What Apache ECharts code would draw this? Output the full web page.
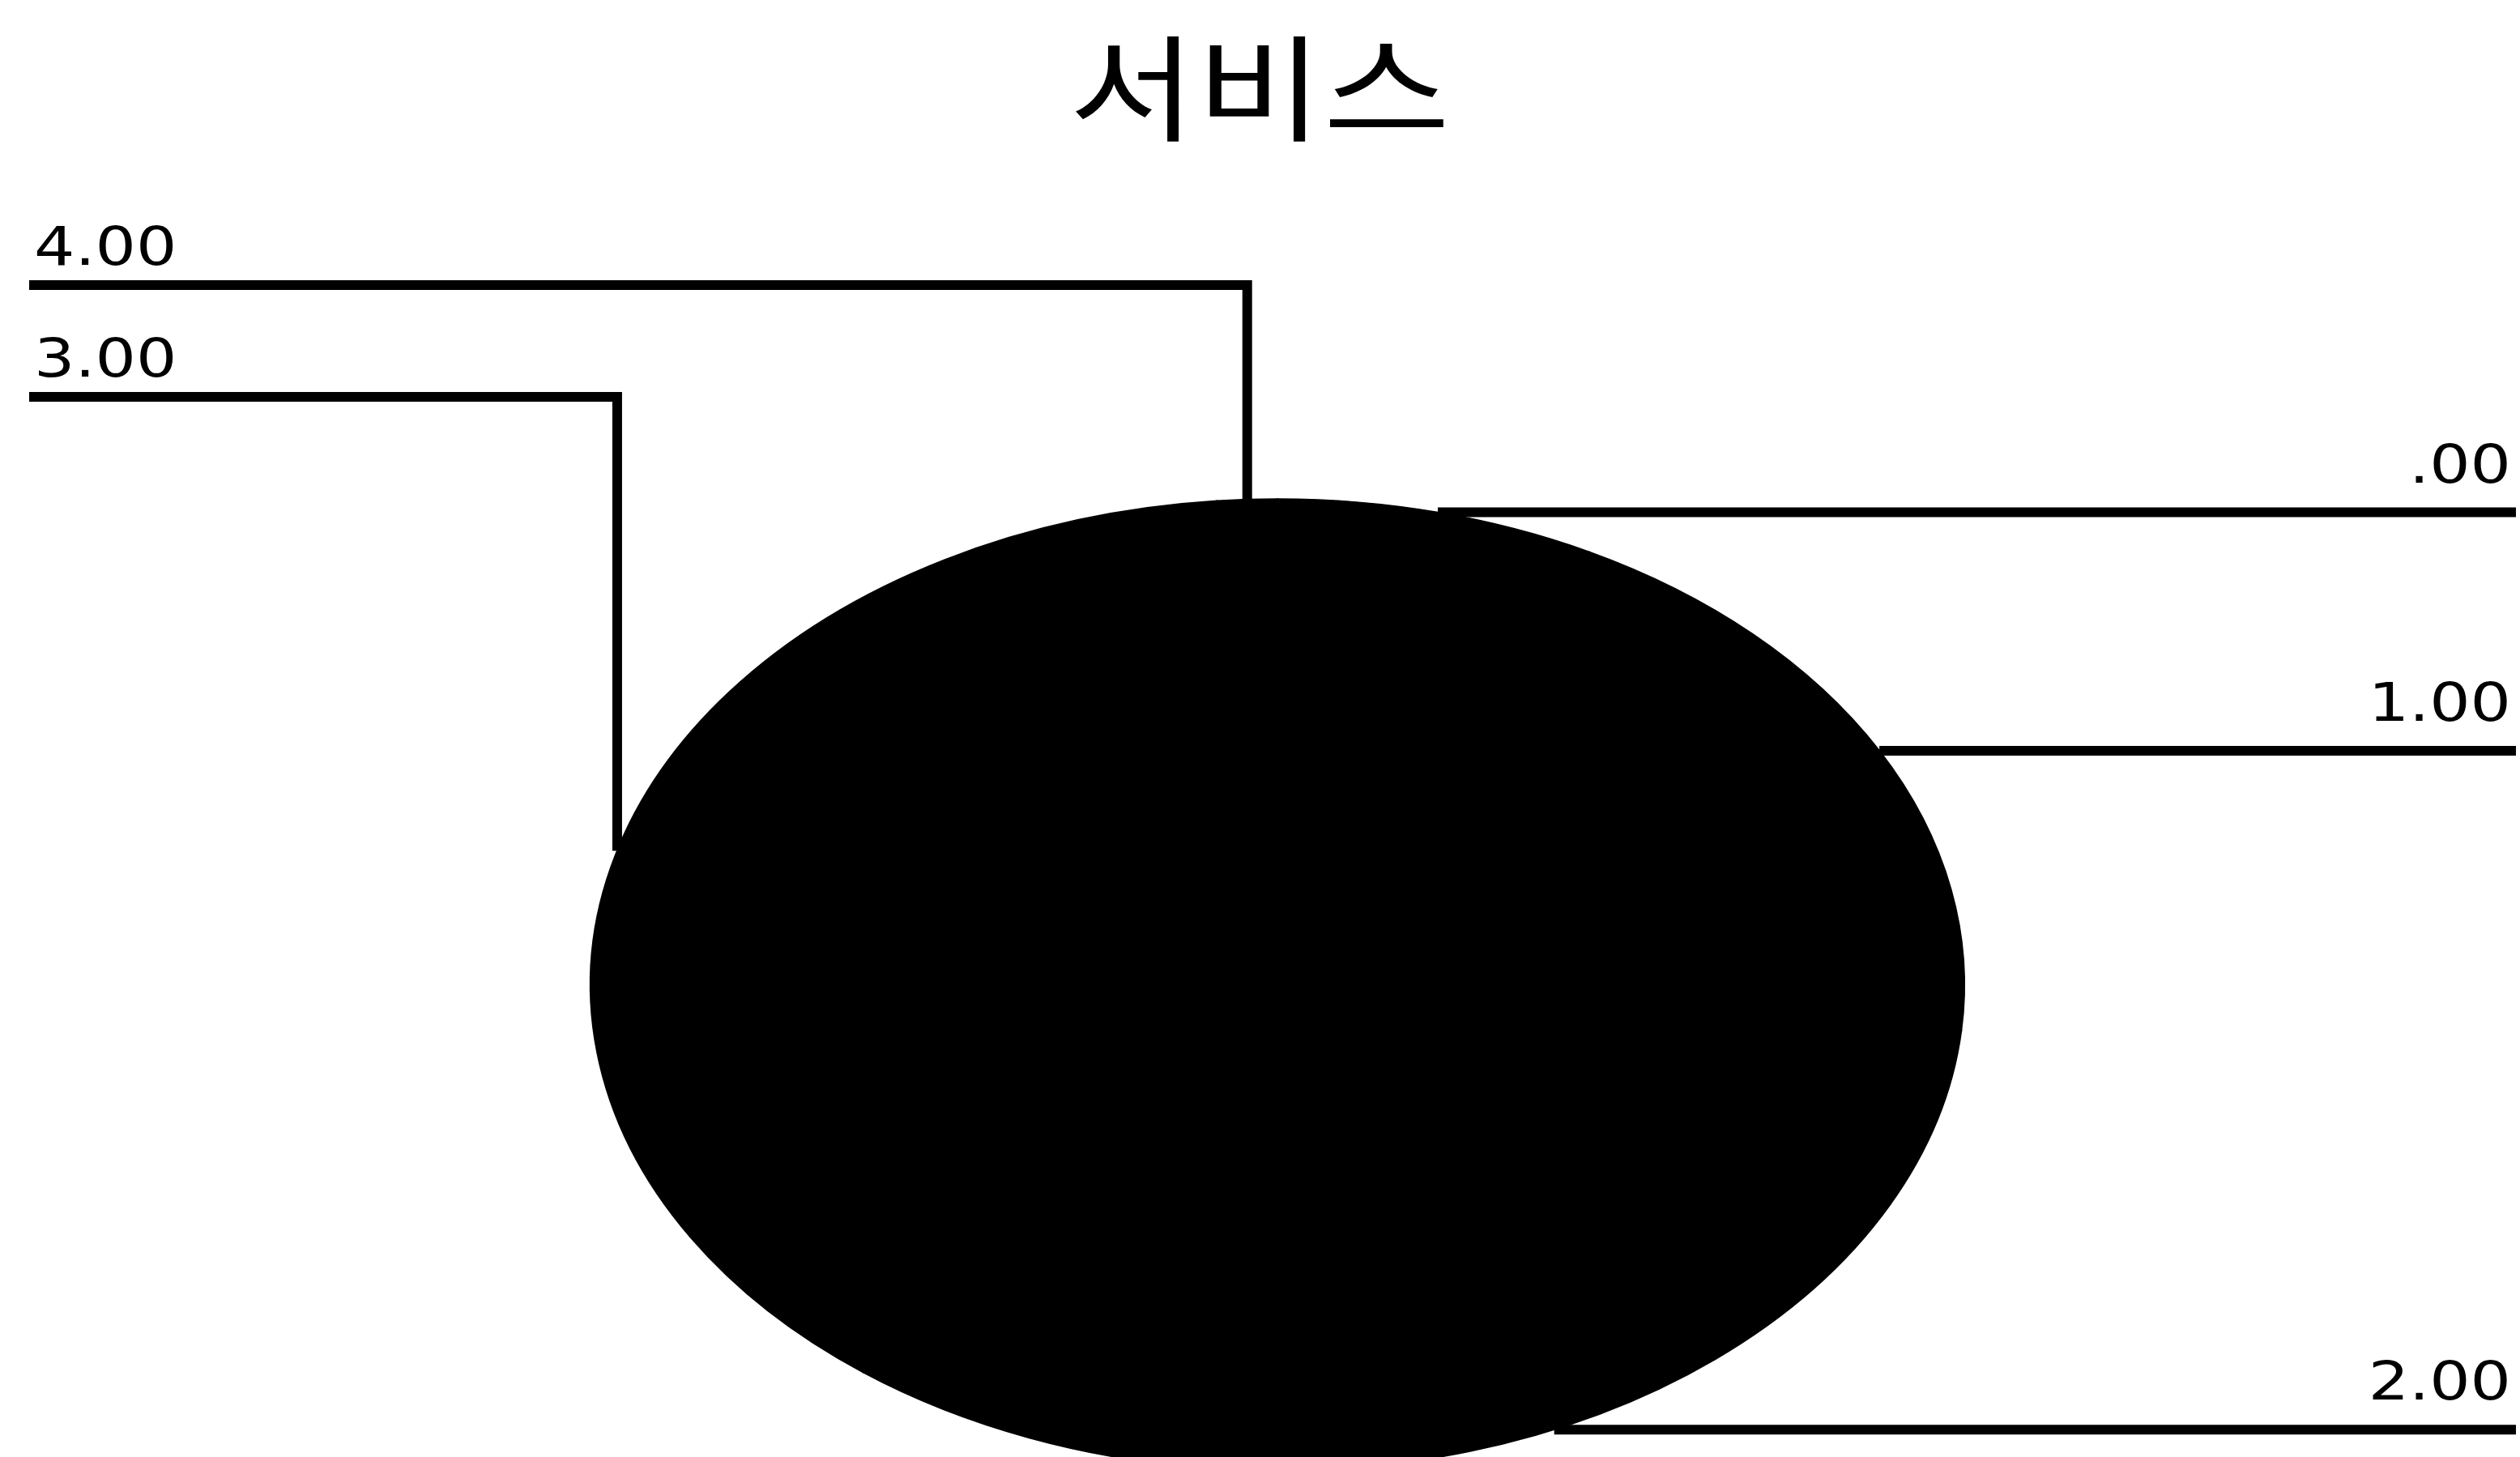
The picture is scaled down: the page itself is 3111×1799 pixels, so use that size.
<!DOCTYPE html>
<html><head><meta charset="utf-8">
<script src="https://cdn.jsdelivr.net/npm/echarts@6/dist/echarts.min.js"></script>
<style>html,body{margin:0;padding:0;background:#fff}#c{width:3111px;height:1799px}</style>
</head><body><div id="c"></div>
<script>
const titleText = '서비스';
const categories = ['.00', '1.00', '2.00', '3.00', '4.00'];
const values = [7.5, 19.0, 33.8, 38.3, 1.4];

// layout constants
const CX = 1577, CY = 1216, RX = 848, RY = 600;
const LINE_W = 12;
const RIGHT_END = 3106, LEFT_START = 36;
const LEFT_ROW0 = 352, LEFT_ROW_STEP = 138;
const LABEL_FONT = '66px "DejaVu Sans"';
const LABEL_SCALE_X = 1.2;

function geometry() {
  const total = values.reduce((a, b) => a + b, 0);
  let acc = 0;
  const out = [];
  values.forEach((v) => {
    const a0 = acc / total * 2 * Math.PI;
    acc += v;
    const a1 = acc / total * 2 * Math.PI;
    const m = (a0 + a1) / 2;
    out.push({ a0, a1, m, px: CX + RX * Math.sin(m), py: CY - RY * Math.cos(m), left: Math.sin(m) < 0 });
  });
  const lefts = out.map((g, i) => i).filter(i => out[i].left).sort((a, b) => out[a].py - out[b].py);
  lefts.forEach((i, k) => { out[i].rowY = LEFT_ROW0 + k * LEFT_ROW_STEP; });
  return out;
}
const geo = geometry();

const chart = echarts.init(document.getElementById('c'), null, { renderer: 'canvas' });
chart.setOption({
  animation: false,
  backgroundColor: '#ffffff',
  graphic: [{
    type: 'text',
    x: 1555, y: 38, scaleX: 1.2,
    style: { text: titleText, align: 'center', verticalAlign: 'top', font: '142px "Noto Sans CJK KR"', fill: '#000' }
  }],
  series: [{
    type: 'custom',
    coordinateSystem: 'none',
    data: values.map((v, i) => ({ value: v, name: categories[i] })),
    renderItem: function (params, api) {
      const i = params.dataIndex;
      const g = geo[i];
      const children = [];
      children.push({
        type: 'group', x: CX, y: CY, scaleX: RX / RY,
        children: [{
          type: 'sector',
          shape: { cx: 0, cy: 0, r0: 0, r: RY, startAngle: g.a0 - Math.PI / 2, endAngle: g.a1 - Math.PI / 2, clockwise: true },
          style: { fill: '#000', stroke: '#000', lineWidth: 1.5 }
        }]
      });
      let pts, tx, ty, align;
      if (!g.left) {
        pts = [[g.px, g.py], [RIGHT_END, g.py]];
        tx = RIGHT_END - 6; ty = g.py - 54; align = 'right';
      } else {
        pts = [[g.px, g.py], [g.px, g.rowY], [LEFT_START, g.rowY]];
        tx = 42; ty = g.rowY - 42; align = 'left';
      }
      children.push({ type: 'polyline', shape: { points: pts }, style: { stroke: '#000', lineWidth: LINE_W, fill: null, lineJoin: 'miter' } });
      children.push({ type: 'text', x: tx, y: ty, scaleX: LABEL_SCALE_X, style: { text: categories[i], x: 0, y: 0, align: align, verticalAlign: 'middle', font: LABEL_FONT, fill: '#000' } });
      return { type: 'group', children: children };
    }
  }]
});
</script></body></html>
